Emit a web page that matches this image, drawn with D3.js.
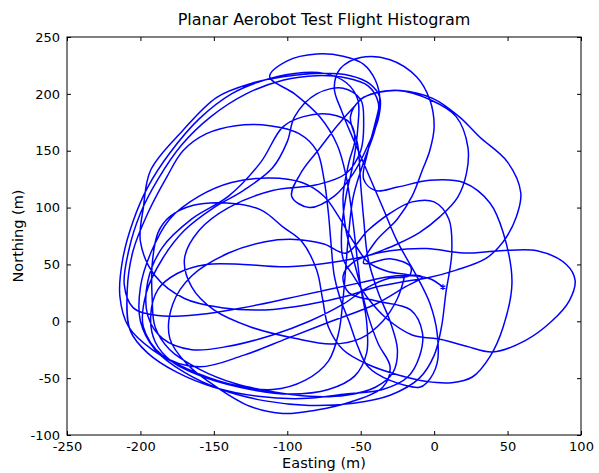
<!DOCTYPE html>
<html>
<head>
<meta charset="utf-8">
<script src="https://cdn.jsdelivr.net/npm/d3@7"></script>
<style>
  body { margin: 0; background: #fff; }
  text { font-family: "DejaVu Sans", sans-serif; fill: #000; }
</style>
</head>
<body>
<svg id="chart" width="599" height="473"></svg>
<script>
const titleText = "Planar Aerobot Test Flight Histogram";
const xLabelText = "Easting (m)";
const yLabelText = "Northing (m)";
const xTicks = [-250, -200, -150, -100, -50, 0, 50, 100];
const yTicks = [-100, -50, 0, 50, 100, 150, 200, 250];

// flight track (easting, northing in m)
const loop1 = [[6,30],[-2,37],[-15,40],[-32,39],[-50,34],[-72,28],[-100,20],[-130,12],[-160,6],[-188,5],[-205,12],[-211,32],[-208,62],[-200,95],[-188,125],[-172,155],[-152,180],[-128,200],[-103,212],[-80,216],[-60,214],[-45,207],[-38,192],[-40,170],[-48,140],[-55,110],[-58,80],[-60,50],[-62,20],[-65,-10],[-72,-35],[-88,-52]];
const loop2 = [[-110,-60],[-140,-55],[-168,-42],[-192,-25],[-208,-5],[-214,22],[-212,55],[-205,88],[-195,118],[-180,148],[-160,178],[-138,200],[-116,212],[-95,218],[-75,218],[-60,210],[-52,195],[-52,170],[-55,140],[-60,110],[-63,80],[-62,55],[-55,40]];
const loop3 = [[-45,20],[-32,2],[-15,-12],[5,-16],[22,-22],[40,-27],[62,-17],[80,0],[92,18],[96,36],[90,50],[70,62],[45,62],[20,60],[-5,64],[-30,62],[-55,55],[-80,50],[-105,48]];
const loop4 = [[-130,50],[-155,50],[-175,42],[-188,28],[-193,5],[-190,-18],[-178,-36],[-155,-50],[-125,-60],[-98,-64],[-72,-60],[-54,-48],[-46,-28],[-46,0],[-50,30],[-53,62],[-56,95],[-60,128],[-66,155],[-78,180],[-95,200],[-112,215],[-100,229],[-80,235],[-62,233],[-48,226],[-40,212],[-37,195],[-40,175],[-45,150]];
const loop5 = [[-48,125],[-40,115],[-25,118],[-3,124],[20,122],[38,104],[47,78],[53,34],[47,-5],[38,-31],[26,-49],[12,-54],[-5,-53],[-25,-47],[-45,-38],[-62,-25],[-72,-5],[-76,20]];
const loop6 = [[-80,45],[-90,70],[-103,83],[-118,98],[-141,104],[-164,102],[-180,92],[-188,78],[-192,50],[-192,20],[-190,-5],[-180,-25],[-160,-42],[-135,-55],[-110,-62],[-85,-66],[-60,-65],[-40,-58],[-28,-45],[-25,-25],[-30,0],[-38,25],[-45,55]];
const loop7 = [[-48,90],[-50,120],[-52,155],[-57,180],[-50,195],[-40,201],[-23,203],[-1,196],[17,180],[31,162],[50,140],[59,113],[56,92],[47,70],[35,55],[15,45],[-5,38],[-20,35],[-40,30]];
const loop8 = [[-60,22],[-85,15],[-115,10],[-145,12],[-170,20],[-190,40],[-200,70],[-198,100],[-193,133],[-171,168],[-148,197],[-125,209],[-103,215],[-80,218],[-57,216],[-44,209],[-37,197],[-38,178],[-45,155],[-55,130],[-68,110],[-85,100],[-97,110],[-90,132],[-78,152]];
const loop9 = [[-66,172],[-55,188],[-48,197],[-25,203],[-3,195],[15,180],[23,153],[22,130],[16,109],[4,92],[-10,78],[-25,68],[-40,60],[-55,52]];
const loop10 = [[-62,40],[-58,25],[-40,18],[-16,10],[-8,-10],[-10,-31],[-18,-49],[-35,-60],[-60,-64],[-90,-68],[-120,-66],[-150,-58],[-175,-45],[-195,-28],[-207,-8],[-209,27],[-205,62],[-195,95],[-182,127],[-171,150],[-155,165],[-135,172],[-112,172],[-92,165],[-80,150],[-75,125],[-72,95],[-70,65]];
const loop11 = [[-68,40],[-64,20],[-58,0],[-52,-22],[-45,-40],[-30,-52],[-10,-58],[-5,-54],[2,-37],[2,-10],[-3,16],[-12,40],[-25,70],[-35,100],[-45,130],[-55,160],[-63,185],[-68,205],[-64,222],[-50,232],[-30,230],[-12,215],[-3,195],[0,171],[-3,150],[-8,133],[-15,110],[-25,90],[-40,70]];
const loop12 = [[-48,51],[-30,55],[-16,48],[-17,40],[-30,38],[-45,30],[-62,15],[-85,0],[-110,-12],[-140,-22],[-165,-25],[-185,-15],[-195,5],[-195,35],[-185,65],[-165,90],[-140,110],[-118,140],[-103,171],[-89,180],[-71,182],[-57,174],[-54,160],[-58,140],[-62,110],[-60,80]];
const loop13 = [[-55,55],[-50,30],[-45,5],[-38,-20],[-30,-40],[-35,-58],[-57,-71],[-80,-78],[-103,-81],[-125,-75],[-148,-58],[-168,-38],[-180,-15],[-178,15],[-165,40],[-140,60],[-115,70],[-95,72],[-75,68]];
const loop14 = [[-60,60],[-45,80],[-30,95],[-15,105],[0,105],[10,90],[12,60],[8,25],[5,-5],[0,-30],[-10,-50],[-30,-65],[-55,-72],[-85,-74],[-115,-70],[-145,-60],[-170,-45],[-190,-25],[-200,0],[-200,30],[-193,60],[-180,90]];
const loop15 = [[-160,110],[-138,122],[-112,126],[-90,122],[-75,110],[-65,92],[-55,70],[-45,52],[-32,44],[-18,41],[-8,39]];
const loop16 = [[-20,30],[-40,15],[-70,0],[-100,-15],[-130,-30],[-160,-40],[-185,-30],[-198,-5],[-196,25],[-185,55],[-170,80],[-150,100],[-130,115],[-110,135],[-100,158],[-95,180],[-80,200],[-62,205],[-50,195]];
const loop17 = [[-48,175],[-50,150],[-60,130],[-80,120],[-110,115],[-140,100],[-160,80],[-170,55],[-165,30],[-150,10],[-125,-5],[-95,-15],[-70,-20],[-50,-15],[-35,0],[-25,20],[-20,40]];

const track = [].concat(loop1, loop2, loop3, loop4, loop5, loop6, loop7, loop8, loop9,
                        loop10, loop11, loop12, loop13, loop14, loop15, loop16, loop17);
const marker = [6, 30];

const svg = d3.select("#chart");
const LEFT = 67, RIGHT = 581, TOP = 37, BOTTOM = 435;

const x = d3.scaleLinear().domain([-250, 100]).range([LEFT, RIGHT]);
const y = d3.scaleLinear().domain([-100, 250]).range([BOTTOM, TOP]);

// track
const line = d3.line()
    .x(d => x(d[0]))
    .y(d => y(d[1]))
    .curve(d3.curveCatmullRom.alpha(0.5));

svg.append("path")
   .datum(track)
   .attr("d", line)
   .attr("fill", "none")
   .attr("stroke", "#0000ff")
   .attr("stroke-width", 1.5);

svg.append("path")
   .attr("d", d3.symbol(d3.symbolAsterisk, 22)())
   .attr("transform", "translate(" + x(marker[0]) + "," + y(marker[1]) + ")")
   .attr("fill", "none")
   .attr("stroke", "#0000ff")
   .attr("stroke-width", 1.3);

// axes, matplotlib style: ticks inside on all four sides
const plain = d => String(d);
const axisStyle = (g) => {
    g.select(".domain").remove();
    g.selectAll(".tick line").attr("stroke", "#000");
    g.selectAll(".tick text").style("font-size", "13px").attr("fill", "#000");
};

svg.append("g")
   .attr("transform", "translate(0," + BOTTOM + ")")
   .call(d3.axisBottom(x).tickValues(xTicks).tickFormat(plain).tickSizeInner(-4).tickPadding(7))
   .call(axisStyle);
svg.append("g")
   .attr("transform", "translate(0," + TOP + ")")
   .call(d3.axisTop(x).tickValues(xTicks).tickSizeInner(-4).tickFormat(""))
   .call(axisStyle);
svg.append("g")
   .attr("transform", "translate(" + LEFT + ",0)")
   .call(d3.axisLeft(y).tickValues(yTicks).tickFormat(plain).tickSizeInner(-4).tickPadding(7))
   .call(axisStyle);
svg.append("g")
   .attr("transform", "translate(" + RIGHT + ",0)")
   .call(d3.axisRight(y).tickValues(yTicks).tickSizeInner(-4).tickFormat(""))
   .call(axisStyle);

svg.append("rect")
   .attr("x", LEFT).attr("y", TOP)
   .attr("width", RIGHT - LEFT).attr("height", BOTTOM - TOP)
   .attr("fill", "none")
   .attr("stroke", "#000")
   .attr("stroke-width", 1);

svg.append("text")
   .attr("x", (LEFT + RIGHT) / 2)
   .attr("y", 25)
   .attr("text-anchor", "middle")
   .style("font-size", "16px")
   .text(titleText);

svg.append("text")
   .attr("x", (LEFT + RIGHT) / 2)
   .attr("y", 468)
   .attr("text-anchor", "middle")
   .style("font-size", "14.5px")
   .text(xLabelText);

svg.append("text")
   .attr("transform", "translate(23," + ((TOP + BOTTOM) / 2) + ") rotate(-90)")
   .attr("text-anchor", "middle")
   .style("font-size", "14.5px")
   .text(yLabelText);
</script>
</body>
</html>
